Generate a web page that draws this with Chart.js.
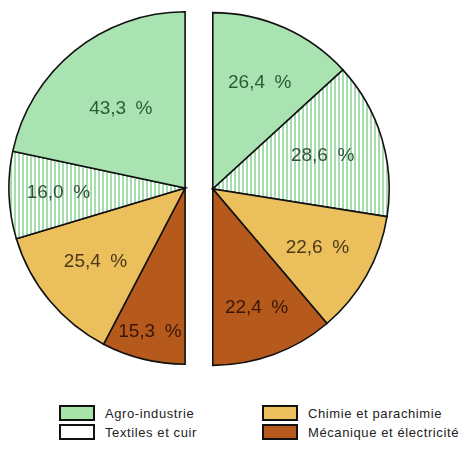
<!DOCTYPE html>
<html>
<head>
<meta charset="utf-8">
<script src="https://cdn.jsdelivr.net/npm/chart.js@4/dist/chart.umd.min.js"></script>
<style>
  html, body { margin: 0; padding: 0; background: #fff; }
  #wrap { position: relative; width: 475px; height: 452px; overflow: hidden; }
  .pie { position: absolute; }
  #left { left: 6px; top: 9px; }
  #right { left: 210px; top: 9px; }
  .lg { position: absolute; font: 13px "Liberation Sans", Arial, sans-serif; letter-spacing: 0.6px; color: #222; display: flex; align-items: center; }
  .lg i { display: inline-block; width: 32px; height: 12px; border: 2px solid #111; margin-right: 10px; }
</style>
</head>
<body>
<div id="wrap">
  <canvas id="left" class="pie" width="182" height="358"></canvas>
  <canvas id="right" class="pie" width="182" height="360"></canvas>
  <div id="legend"></div>
</div>
<script>
// ── data ──
const sectors = ['Agro-industrie', 'Textiles et cuir', 'Chimie et parachimie', 'Mécanique et électricité'];
const leftValues = [43.3, 16.0, 25.4, 15.3];
const rightValues = [26.4, 28.6, 22.6, 22.4];

// ── styles ──
const GREEN = '#a9e3b1', ORANGE = '#ebc05c', BROWN = '#b6591d';
const textColors = ['#2e5a3a', '#34523b', '#4a3818', '#3a1608'];
// label distance from hub as a fraction of the radius (sector order)
const leftLabelR = [0.58, 0.72, 0.66, 0.84];
const rightLabelR = [0.66, 0.65, 0.68, 0.72];

function hatch() {
  const c = document.createElement('canvas');
  c.width = 4; c.height = 4;
  const x = c.getContext('2d');
  x.fillStyle = '#fff'; x.fillRect(0, 0, 4, 4);
  x.fillStyle = '#a6dcae'; x.fillRect(0, 0, 2, 4);
  return x.createPattern(c, 'repeat');
}
const fills = [GREEN, hatch(), ORANGE, BROWN];

const fmt = v => v.toFixed(1).replace('.', ',') + '\u2002%';

const pctLabels = {
  id: 'pctLabels',
  afterDatasetsDraw(chart, args, opts) {
    const { ctx } = chart;
    const meta = chart.getDatasetMeta(0);
    ctx.save();
    ctx.font = '19px "Liberation Sans", Arial, sans-serif';
    ctx.textAlign = 'center';
    ctx.textBaseline = 'middle';
    meta.data.forEach((arc, i) => {
      const idx = opts.order[i];
      const p = arc.getProps(['x', 'y', 'startAngle', 'endAngle', 'outerRadius'], true);
      const a = (p.startAngle + p.endAngle) / 2;
      const r = p.outerRadius * opts.radii[idx];
      ctx.fillStyle = textColors[idx];
      ctx.fillText(fmt(chart.data.datasets[0].data[i]), p.x + Math.cos(a) * r, p.y + Math.sin(a) * r);
    });
    ctx.restore();
  }
};

function halfPie(id, values, order, radii, rotation) {
  return new Chart(document.getElementById(id), {
    type: 'pie',
    data: {
      labels: order.map(i => sectors[i]),
      datasets: [{
        data: order.map(i => values[i]),
        backgroundColor: order.map(i => fills[i]),
        borderColor: '#111',
        borderWidth: 1.6,
        borderJoinStyle: 'miter'
      }]
    },
    options: {
      responsive: false, animation: false, events: [],
      rotation, circumference: 180,
      layout: { padding: 2 },
      plugins: { legend: { display: false }, tooltip: { enabled: false }, pctLabels: { order, radii } }
    },
    plugins: [pctLabels]
  });
}

// left half is drawn clockwise from the bottom, so sectors go in reverse
halfPie('left', leftValues, [3, 2, 1, 0], leftLabelR, 180);
halfPie('right', rightValues, [0, 1, 2, 3], rightLabelR, 0);

// ── legend ──
const legendFill = ['#a8e4a8', '#fff', ORANGE, BROWN];
const legendPos = [[59, 405], [59, 424], [262, 405], [262, 424]];
document.getElementById('legend').innerHTML = sectors.map((s, i) =>
  `<div class="lg" style="left:${legendPos[i][0]}px;top:${legendPos[i][1]}px"><i style="background:${legendFill[i]}"></i>${s}</div>`
).join('');
</script>
</body>
</html>
